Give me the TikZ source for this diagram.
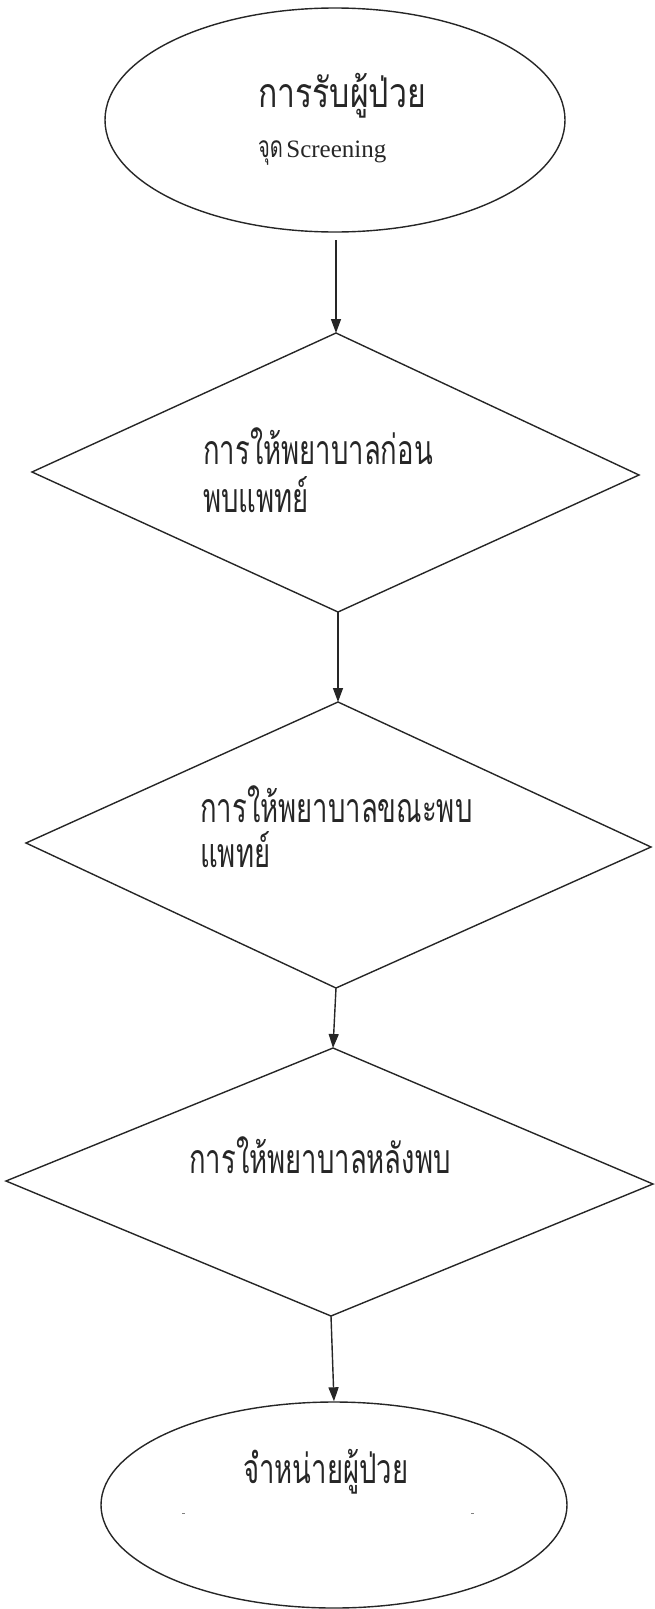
\documentclass[tikz,border=0pt]{standalone}
\usepackage{fontspec}
\usetikzlibrary{shapes.geometric,arrows.meta}
\newfontfamily\thai[Script=Thai,FakeStretch=0.67]{Loma}
\newfontfamily\thaiwide[Script=Thai,FakeStretch=0.78]{Loma}
\newfontfamily\latinserif{Liberation Serif}
\tikzset{
  shapeline/.style={draw=black!85,line width=1.4pt,line join=miter},
  oval/.style={shapeline,ellipse,inner sep=0pt},
  arr/.style={draw=black!85,line width=1.4pt,-{Triangle[width=10pt,length=14pt]}},
  bigtxt/.style={anchor=base west,inner sep=0pt,font=\thai\fontsize{41}{41}\selectfont,text=black!85},
  smalltxt/.style={anchor=base west,inner sep=0pt,text=black!85},
  speck/.style={black!50,line width=1pt},
}
\begin{document}
\begin{tikzpicture}[x=1pt,y=-1pt]
\useasboundingbox (0,0) rectangle (654,1609);
% ovals
\node[oval,minimum width=460pt,minimum height=224pt] (e1) at (335,120) {};
\node[oval,minimum width=466pt,minimum height=206pt] (e2) at (334,1505) {};
% diamonds (corner points)
\coordinate (d1t) at (336,333);
\coordinate (d1r) at (639,475);
\coordinate (d1b) at (338,612);
\coordinate (d1l) at (32,472);
\coordinate (d2t) at (338,702);
\coordinate (d2r) at (651,847);
\coordinate (d2b) at (336,988);
\coordinate (d2l) at (26,843);
\coordinate (d3t) at (333,1048);
\coordinate (d3r) at (653,1184);
\coordinate (d3b) at (331,1316);
\coordinate (d3l) at (6,1181);
\draw[shapeline] (d1t) -- (d1r) -- (d1b) -- (d1l) -- cycle;
\draw[shapeline] (d2t) -- (d2r) -- (d2b) -- (d2l) -- cycle;
\draw[shapeline] (d3t) -- (d3r) -- (d3b) -- (d3l) -- cycle;
% texts
\node[anchor=base west,inner sep=0pt,text=black!85,font=\thaiwide\fontsize{41}{41}\selectfont] (t1a) at (258,107) {การรับผู้ป่วย};
\node[smalltxt] (t1b) at (258,157) {{\thai\fontsize{30}{30}\selectfont จุด} {\latinserif\fontsize{25}{25}\selectfont Screening}};
\node[bigtxt] (t2a) at (203,464) {การให้พยาบาลก่อน};
\node[bigtxt] (t2b) at (203,512) {พบแพทย์};
\node[bigtxt] (t3a) at (200,822) {การให้พยาบาลขณะพบ};
\node[bigtxt] (t3b) at (200,867) {แพทย์};
\node[bigtxt] (t4) at (189,1173) {การให้พยาบาลหลังพบ};
\node[bigtxt] (t5) at (243,1483) {จำหน่ายผู้ป่วย};
% connectors
\coordinate (a1s) at (336,240);
\draw[arr] (a1s) -- (d1t);
\draw[arr] (d1b) -- (d2t);
\draw[arr] (d2b) -- (d3t);
\draw[arr] (d3b) -- (e2.north);
% specks
\coordinate (s1) at (182,1513);
\coordinate (s2) at (471,1513);
\draw[speck] (s1) -- ++(3,0);
\draw[speck] (s2) -- ++(3,0);
\end{tikzpicture}
\end{document}
